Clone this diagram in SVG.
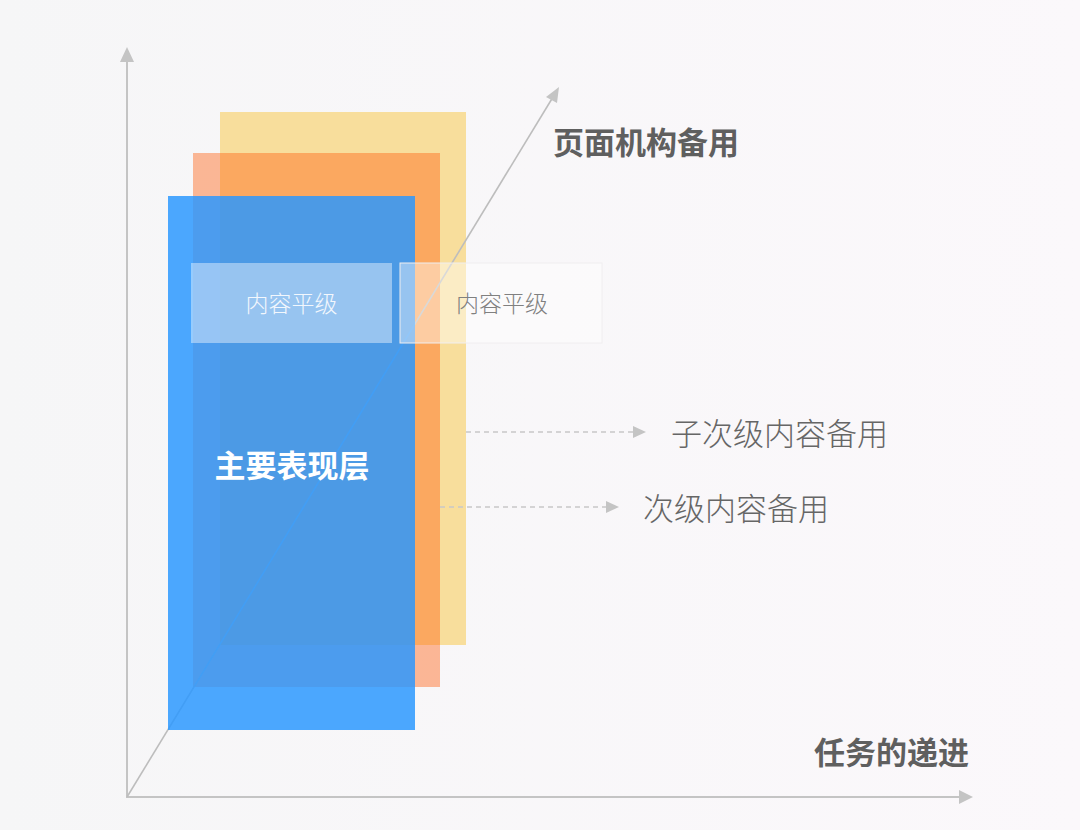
<svg xmlns="http://www.w3.org/2000/svg" width="1080" height="830" viewBox="0 0 1080 830">
<defs>
<style>
.axis{stroke:#C4C4C4;stroke-width:2;fill:none}
.diag{stroke:#BDBDBD;stroke-width:1.6;fill:none}
.dash{stroke:#C8C8C8;stroke-width:1.6;stroke-dasharray:5 4;fill:none}
.head{fill:#C4C4C4}
.lbl{font-family:"Noto Sans CJK SC","Noto Sans",sans-serif;font-size:31px;fill:#666;text-anchor:start;dominant-baseline:central}
.bold{font-weight:700;fill:#5f5f5f}
.light{font-weight:300}
.box{fill:#FFFFFF;fill-opacity:0.42}
.boxtxt{font-family:"Noto Sans CJK SC","Noto Sans",sans-serif;font-size:23px;font-weight:300;text-anchor:middle;dominant-baseline:central}
</style>
<linearGradient id="bg" x1="0" y1="0" x2="1" y2="0">
<stop offset="0" stop-color="#F6F6F7"/>
<stop offset="1" stop-color="#FBF8FB"/>
</linearGradient>
</defs>
<rect x="0" y="0" width="1080" height="830" fill="url(#bg)"/>

<g id="layer-yellow"><rect x="220" y="112" width="246" height="533" fill="#F8DE9C"/></g>
<g id="layer-orange"><rect x="193" y="153" width="247" height="534" fill="#FF6212" fill-opacity="0.43"/></g>

<g id="connectors">
<line class="axis" x1="127" y1="798" x2="127" y2="60"/>
<polygon class="head" points="127,47 120,62 134,62"/>
<line class="axis" x1="127" y1="797" x2="961" y2="797"/>
<polygon class="head" points="973,797 959,790 959,804"/>
<line class="diag" x1="127" y1="797" x2="553" y2="97"/>
<polygon class="head" points="559,87 546,97 557,103"/>
<line class="dash" x1="466" y1="432" x2="633" y2="432"/>
<polygon class="head" points="646,432 633,426 633,438"/>
<line class="dash" x1="440" y1="507" x2="606" y2="507"/>
<polygon class="head" points="619,507 606,501 606,513"/>
</g>

<g id="layer-blue"><rect x="168" y="196" width="247" height="534" fill="#2A97FF" fill-opacity="0.84"/>
<text class="lbl bold" x="292" y="463" style="fill:#FFFFFF;text-anchor:middle">主要表现层</text></g>

<g id="box-1"><rect class="box" x="191" y="263" width="201" height="80"/>
<text class="boxtxt" x="291.500" y="302" fill="#F2F7FD">内容平级</text></g>
<g id="box-2"><rect class="box" x="400" y="263" width="202" height="80" stroke="#F0EEF0" stroke-width="1"/>
<text class="boxtxt" x="502" y="302" fill="#808080">内容平级</text></g>

<g id="label-page"><text class="lbl bold" x="553" y="140">页面机构备用</text></g>
<g id="label-sub2"><text class="lbl light" x="671" y="431">子次级内容备用</text></g>
<g id="label-sub1"><text class="lbl light" x="643" y="506">次级内容备用</text></g>
<g id="label-task"><text class="lbl bold" x="814" y="750">任务的递进</text></g>
</svg>
